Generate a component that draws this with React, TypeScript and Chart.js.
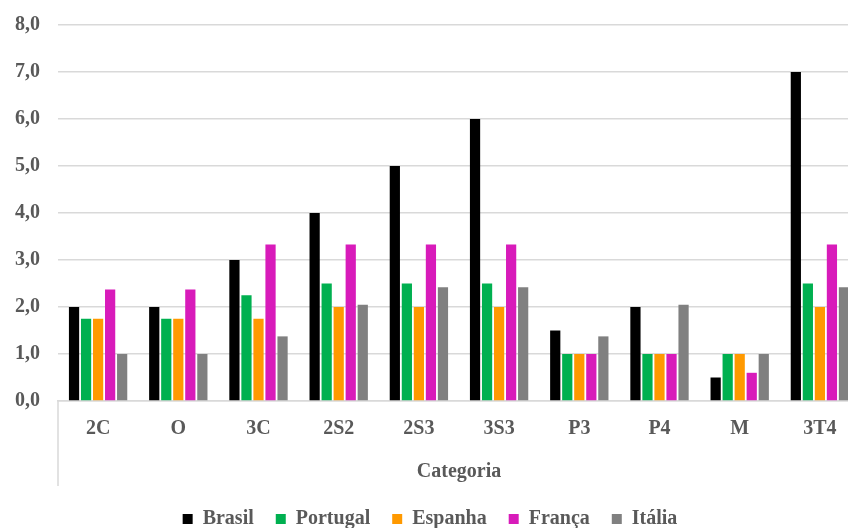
import React, { useEffect, useRef } from "react";
import { Chart, registerables } from "chart.js";

Chart.register(...registerables);

const categories = ["2C", "O", "3C", "2S2", "2S3", "3S3", "P3", "P4", "M", "3T4"];
const brasil = [2.0, 2.0, 3.0, 4.0, 5.0, 6.0, 1.5, 2.0, 0.5, 7.0];
const portugal = [1.75, 1.75, 2.25, 2.5, 2.5, 2.5, 1.0, 1.0, 1.0, 2.5];
const espanha = [1.75, 1.75, 1.75, 2.0, 2.0, 2.0, 1.0, 1.0, 1.0, 2.0];
const franca = [2.375, 2.375, 3.33, 3.33, 3.33, 3.33, 1.0, 1.0, 0.6, 3.33];
const italia = [1.0, 1.0, 1.375, 2.05, 2.42, 2.42, 1.375, 2.05, 1.0, 2.42];
const seriesNames = ["Brasil", "Portugal", "Espanha", "França", "Itália"];
const seriesColors = ["#000000", "#00B050", "#FF9900", "#D81BBA", "#808080"];
const axisTitle = "Categoria";

const FONT = "'Liberation Serif', 'Times New Roman', serif";
const TEXT = "#595959";

const leftLinePlugin = {
  id: "leftLine",
  afterDraw(chart: any) {
    const { ctx, chartArea } = chart;
    ctx.save();
    ctx.strokeStyle = "#D9D9D9";
    ctx.lineWidth = 1.5;
    ctx.beginPath();
    ctx.moveTo(chartArea.left, chartArea.bottom);
    ctx.lineTo(chartArea.left, chartArea.bottom + 85);
    ctx.stroke();
    ctx.restore();
  },
};

export default function App() {
  const ref = useRef<HTMLCanvasElement>(null);
  useEffect(() => {
    const data = [brasil, portugal, espanha, franca, italia];
    const chart = new Chart(ref.current!, {
      type: "bar",
      data: {
        labels: categories,
        datasets: seriesNames.map((n, i) => ({
          label: n,
          data: data[i],
          backgroundColor: seriesColors[i],
          borderWidth: 0,
          categoryPercentage: 0.75,
          barPercentage: 0.85,
        })),
      },
      options: {
        animation: false,
        responsive: false,
        maintainAspectRatio: false,
        layout: { padding: { top: 18, left: 0, right: 10, bottom: 0 } },
        plugins: {
          tooltip: { enabled: false },
          legend: {
            position: "bottom",
            labels: {
              boxWidth: 10,
              boxHeight: 10,
              padding: 22,
              color: TEXT,
              font: { family: FONT, size: 20, weight: "bold" },
            },
          },
        },
        scales: {
          x: {
            grid: { display: false },
            border: { display: true, color: "#D9D9D9", width: 1.5 },
            ticks: {
              color: TEXT,
              padding: 8,
              font: { family: FONT, size: 20, weight: "bold" },
            },
            title: {
              display: true,
              text: axisTitle,
              color: TEXT,
              font: { family: FONT, size: 20, weight: "bold" },
              padding: { top: 12, bottom: 3 },
            },
            afterFit(scale: any) {
              scale.height = 86;
            },
          },
          y: {
            min: 0,
            max: 8,
            ticks: {
              stepSize: 1,
              color: TEXT,
              padding: 18,
              font: { family: FONT, size: 20, weight: "bold" },
              callback: (v: any) => Number(v).toFixed(1).replace(".", ","),
            },
            grid: { color: "#D9D9D9", lineWidth: 1.5, drawTicks: false },
            border: { display: false },
            afterFit(scale: any) {
              scale.width = 58;
            },
          },
        },
      },
      plugins: [leftLinePlugin],
    });
    return () => chart.destroy();
  }, []);
  return (
    <div style={{ position: "fixed", left: 0, top: 0, width: 848, height: 528, overflow: "hidden", background: "#fff" }}>
      <canvas ref={ref} width={870} height={544} style={{ display: "block", position: "absolute", left: 0, top: -5 }} />
    </div>
  );
}
